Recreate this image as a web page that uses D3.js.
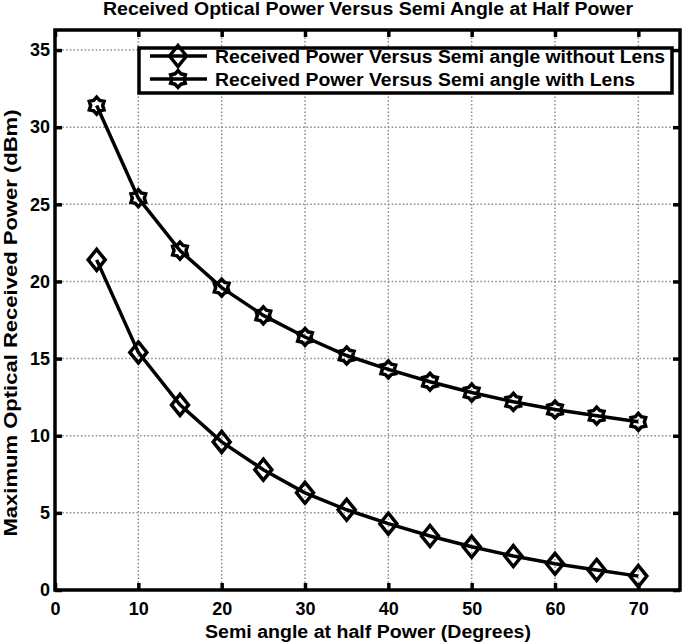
<!DOCTYPE html>
<html>
<head>
<meta charset="utf-8">
<script src="https://cdn.jsdelivr.net/npm/d3@7"></script>
<style>
  body { margin: 0; background: #fff; }
  text { font-family: "Liberation Sans", Arial, sans-serif; font-weight: bold; fill: #000; }
</style>
</head>
<body>
<div id="chart"></div>
<script>
// data
const angles = [5, 10, 15, 20, 25, 30, 35, 40, 45, 50, 55, 60, 65, 70];
const withoutLens = [21.4, 15.4, 12.0, 9.6, 7.8, 6.3, 5.2, 4.3, 3.5, 2.8, 2.2, 1.7, 1.3, 0.9];
const withLens = [31.4, 25.4, 22.0, 19.6, 17.8, 16.4, 15.2, 14.3, 13.5, 12.8, 12.2, 11.7, 11.3, 10.9];
const xTicks = [0, 10, 20, 30, 40, 50, 60, 70];
const yTicks = [0, 5, 10, 15, 20, 25, 30, 35];
const legendLabels = ["Received Power Versus Semi angle without Lens",
                      "Received Power Versus Semi angle with Lens"];

const w = 685, h = 644;
const pLeft = 55, pRight = 680, pTop = 30, pBottom = 590;

const svg = d3.select("#chart").append("svg")
    .attr("width", w)
    .attr("height", h);

const xScale = d3.scaleLinear().domain([0, 75]).range([pLeft, pRight]);
const yScale = d3.scaleLinear().domain([0, 36.3]).range([pBottom, pTop]);

// grid lines, dotted grey
const grid = svg.append("g");
grid.selectAll(".vgrid").data(xTicks.filter(d => d > 0))
    .enter().append("line")
    .attr("x1", d => xScale(d)).attr("x2", d => xScale(d))
    .attr("y1", pTop).attr("y2", pBottom)
    .attr("stroke", "#8a8a8a").attr("stroke-width", 1.5)
    .attr("stroke-dasharray", "1.5,2.2");
grid.selectAll(".hgrid").data(yTicks.filter(d => d > 0))
    .enter().append("line")
    .attr("x1", pLeft).attr("x2", pRight)
    .attr("y1", d => yScale(d)).attr("y2", d => yScale(d))
    .attr("stroke", "#8a8a8a").attr("stroke-width", 1.5)
    .attr("stroke-dasharray", "1.5,2.2");

// axes with inward ticks, MATLAB style box
const xAxis = d3.axisBottom(xScale).tickValues(xTicks).tickSizeInner(-7).tickSizeOuter(0).tickPadding(12);
const yAxis = d3.axisLeft(yScale).tickValues(yTicks).tickSizeInner(-7).tickSizeOuter(0).tickPadding(5);

svg.append("g").attr("transform", "translate(0," + pBottom + ")").call(xAxis);
svg.append("g").attr("transform", "translate(" + pLeft + ",0)").call(yAxis);
svg.append("g").attr("transform", "translate(0," + pTop + ")")
    .call(d3.axisTop(xScale).tickValues(xTicks).tickSizeInner(-7).tickSizeOuter(0).tickFormat(""));
svg.append("g").attr("transform", "translate(" + pRight + ",0)")
    .call(d3.axisRight(yScale).tickValues(yTicks).tickSizeInner(-7).tickSizeOuter(0).tickFormat(""));

svg.selectAll(".tick line").attr("stroke", "#000").attr("stroke-width", 3.5);
svg.selectAll(".domain").remove();
svg.selectAll(".tick text")
    .style("font-size", "18px")
    .style("font-family", "'Liberation Sans', Arial, sans-serif")
    .style("font-weight", "bold");

svg.append("rect")
    .attr("x", pLeft).attr("y", pTop)
    .attr("width", pRight - pLeft).attr("height", pBottom - pTop)
    .attr("fill", "none").attr("stroke", "#000").attr("stroke-width", 3.5);

// markers
function diamondPath(cx, cy) {
    let a = 8.5, b = 10.5;
    return "M" + cx + "," + (cy - b) + "L" + (cx + a) + "," + cy + "L" + cx + "," + (cy + b) + "L" + (cx - a) + "," + cy + "Z";
}
function hexagramPath(cx, cy) {
    let ro = 8.5, ri = 6, pts = [];
    for (let i = 0; i < 12; i++) {
        let r = i % 2 === 0 ? ro : ri;
        let ang = -Math.PI / 2 + i * Math.PI / 6;
        pts.push([cx + r * Math.cos(ang), cy + r * Math.sin(ang)]);
    }
    return "M" + pts.map(p => p.join(",")).join("L") + "Z";
}

const line = d3.line().x(d => xScale(d[0])).y(d => yScale(d[1]));

const series = [
    { values: withoutLens, marker: diamondPath },
    { values: withLens, marker: hexagramPath }
];

series.forEach(function(s) {
    let pts = angles.map((a, i) => [a, s.values[i]]);
    svg.append("path").datum(pts)
        .attr("d", line)
        .attr("fill", "none").attr("stroke", "#000").attr("stroke-width", 3.5);
    svg.append("g").selectAll("path").data(pts)
        .enter().append("path")
        .attr("d", d => s.marker(xScale(d[0]), yScale(d[1])))
        .attr("fill", "none").attr("stroke", "#000").attr("stroke-width", 3.5)
        .attr("stroke-linejoin", "miter");
});

// legend
const lg = svg.append("g");
lg.append("rect")
    .attr("x", 139).attr("y", 48).attr("width", 533).attr("height", 45)
    .attr("fill", "#fff").attr("stroke", "#000").attr("stroke-width", 3.5);
const rowY = [56, 79];
legendLabels.forEach(function(lbl, i) {
    lg.append("line")
        .attr("x1", 150).attr("x2", 207).attr("y1", rowY[i]).attr("y2", rowY[i])
        .attr("stroke", "#000").attr("stroke-width", 3.5);
    lg.append("path")
        .attr("d", series[i].marker(178, rowY[i]))
        .attr("fill", "none").attr("stroke", "#000").attr("stroke-width", 3.5);
    lg.append("text")
        .attr("x", 215).attr("y", rowY[i] + 6.5)
        .style("font-size", "18px")
        .attr("textLength", i === 0 ? 450 : 420)
        .attr("lengthAdjust", "spacingAndGlyphs")
        .text(lbl);
});

// titles
svg.append("text")
    .attr("x", 368).attr("y", 15)
    .attr("text-anchor", "middle")
    .style("font-size", "18px")
    .attr("textLength", 530).attr("lengthAdjust", "spacingAndGlyphs")
    .text("Received Optical Power Versus Semi Angle at Half Power");

svg.append("text")
    .attr("x", 368).attr("y", 638)
    .attr("text-anchor", "middle")
    .style("font-size", "18px")
    .attr("textLength", 326).attr("lengthAdjust", "spacingAndGlyphs")
    .text("Semi angle at half Power (Degrees)");

svg.append("text")
    .attr("transform", "translate(17," + 323 + ") rotate(-90)")
    .attr("text-anchor", "middle")
    .style("font-size", "18px")
    .attr("textLength", 427).attr("lengthAdjust", "spacingAndGlyphs")
    .text("Maximum Optical Received Power (dBm)");
</script>
</body>
</html>
